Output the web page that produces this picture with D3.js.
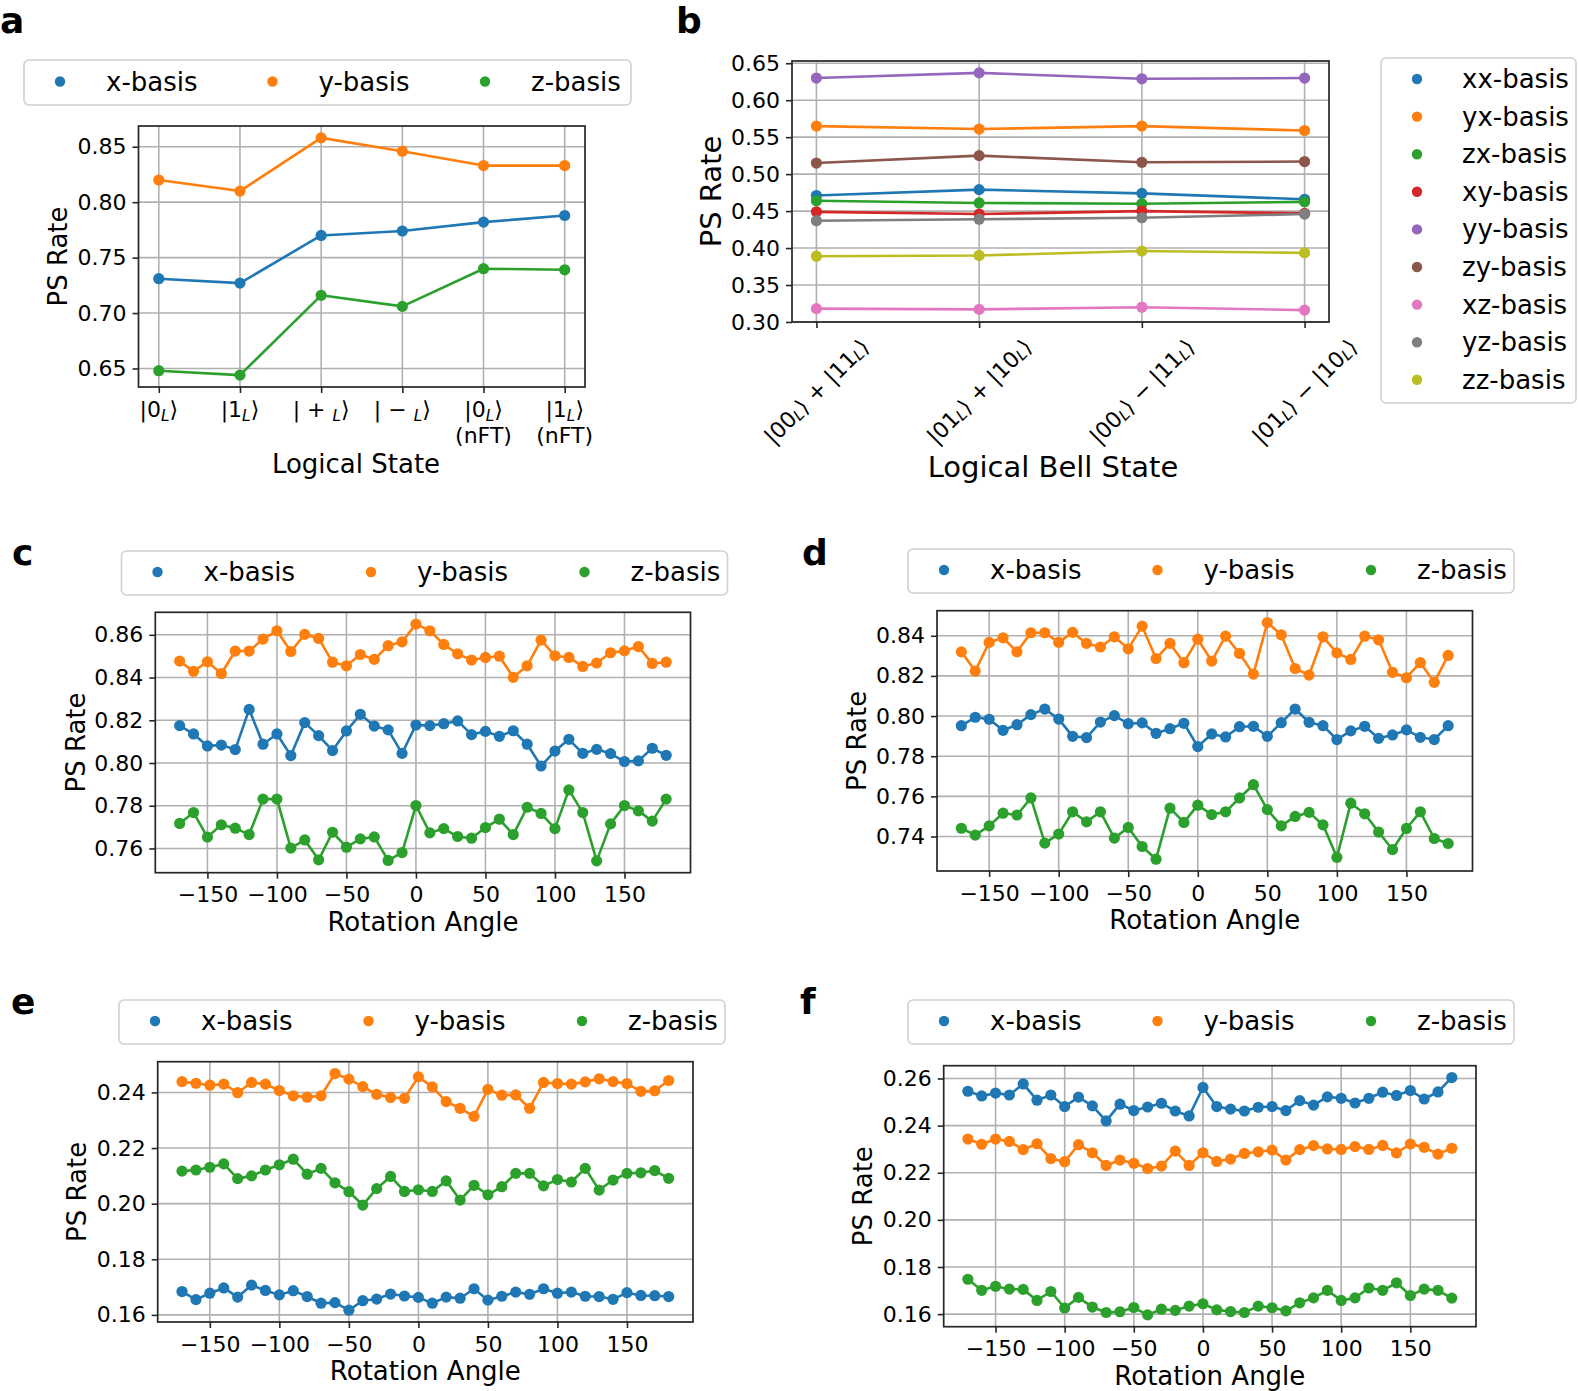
<!DOCTYPE html>
<html><head><meta charset="utf-8">
<script src="https://cdn.jsdelivr.net/npm/d3@7"></script>
<style>
body{margin:0;background:#fff}
svg{display:block}
text{font-family:"DejaVu Sans",sans-serif;white-space:pre}
</style>
</head><body>
<svg id="fig" width="1578" height="1391"></svg>
<script>
// ---------------- DATA ----------------
const basisColors = {x:"#1f77b4", y:"#ff7f0e", z:"#2ca02c"};

const a_states = ["|0_L⟩","|1_L⟩","| + _L⟩","| − _L⟩","|0_L⟩\n(nFT)","|1_L⟩\n(nFT)"];
const a_x = [0.731,0.727,0.770,0.774,0.782,0.788];
const a_y = [0.820,0.810,0.858,0.846,0.833,0.833];
const a_z = [0.648,0.644,0.716,0.706,0.740,0.739];
const a_yticks = [0.65,0.70,0.75,0.80,0.85];

const b_states = ["|00_L⟩ + |11_L⟩","|01_L⟩ + |10_L⟩","|00_L⟩ − |11_L⟩","|01_L⟩ − |10_L⟩"];
const b_names = ["xx-basis","yx-basis","zx-basis","xy-basis","yy-basis","zy-basis","xz-basis","yz-basis","zz-basis"];
const b_colors = ["#1f77b4","#ff7f0e","#2ca02c","#d62728","#9467bd","#8c564b","#e377c2","#7f7f7f","#bcbd22"];
const b_xx = [0.471,0.479,0.474,0.466];
const b_yx = [0.565,0.561,0.565,0.559];
const b_zx = [0.464,0.461,0.460,0.4625];
const b_xy = [0.449,0.446,0.450,0.447];
const b_yy = [0.630,0.637,0.629,0.630];
const b_zy = [0.515,0.525,0.516,0.517];
const b_xz = [0.318,0.317,0.320,0.316];
const b_yz = [0.437,0.439,0.441,0.446];
const b_zz = [0.389,0.390,0.396,0.3935];
const b_yticks = [0.30,0.35,0.40,0.45,0.50,0.55,0.60,0.65];

const angles = [-170,-160,-150,-140,-130,-120,-110,-100,-90,-80,-70,-60,-50,-40,-30,-20,-10,0,
                10,20,30,40,50,60,70,80,90,100,110,120,130,140,150,160,170,180];
const angle_ticks = [-150,-100,-50,0,50,100,150];

const c_x = [.8175,.8136,.8080,.8084,.8063,.8251,.8088,.8136,.8035,.8189,.8128,.8058,.8150,.8228,.8173,.8155,.8045,.8178,.8175,.8184,.8197,.8133,.8148,.8125,.8151,.8088,.7986,.8056,.8111,.8045,.8064,.8044,.8007,.8010,.8069,.8036];
const c_y = [.8477,.8429,.8474,.8419,.8524,.8524,.8580,.8619,.8522,.8602,.8583,.8472,.8455,.8508,.8485,.8549,.8567,.8650,.8619,.8555,.8511,.8482,.8494,.8500,.8401,.8455,.8575,.8502,.8494,.8452,.8468,.8516,.8525,.8545,.8466,.8472];
const c_z = [.7717,.7768,.7653,.7711,.7695,.7665,.7831,.7831,.7602,.7640,.7547,.7676,.7606,.7645,.7654,.7544,.7581,.7801,.7673,.7693,.7656,.7648,.7698,.7737,.7665,.7793,.7764,.7693,.7874,.7768,.7542,.7715,.7801,.7776,.7728,.7831];
const c_yticks = [0.76,0.78,0.80,0.82,0.84,0.86];

const d_x = [.7952,.7994,.7984,.7929,.7957,.8007,.8035,.7985,.7899,.7893,.7970,.8002,.7962,.7966,.7914,.7937,.7964,.7848,.7911,.7896,.7947,.7949,.7899,.7967,.8035,.7969,.7952,.7883,.7926,.7949,.7889,.7906,.7931,.7894,.7883,.7952];
const d_y = [.8320,.8224,.8367,.8390,.8320,.8415,.8415,.8367,.8417,.8362,.8344,.8395,.8335,.8448,.8286,.8362,.8266,.8383,.8274,.8398,.8312,.8209,.8466,.8405,.8237,.8204,.8395,.8315,.8282,.8398,.8380,.8218,.8191,.8266,.8168,.8302];
const d_z = [.7441,.7407,.7453,.7516,.7507,.7592,.7367,.7412,.7523,.7473,.7523,.7392,.7445,.7350,.7287,.7541,.7470,.7556,.7509,.7523,.7592,.7658,.7534,.7453,.7500,.7520,.7458,.7296,.7566,.7513,.7422,.7335,.7440,.7523,.7390,.7365];
const d_yticks = [0.74,0.76,0.78,0.80,0.82,0.84];

const e_x = [.1684,.1655,.1678,.1697,.1664,.1707,.1688,.1672,.1687,.1666,.1642,.1644,.1617,.1651,.1657,.1675,.1668,.1663,.1642,.1664,.1660,.1694,.1653,.1667,.1682,.1674,.1694,.1678,.1682,.1667,.1666,.1656,.1680,.1670,.1669,.1666];
const e_y = [.2439,.2433,.2426,.2430,.2399,.2436,.2430,.2407,.2388,.2383,.2388,.2468,.2448,.2421,.2393,.2382,.2379,.2456,.2420,.2367,.2343,.2314,.2411,.2390,.2391,.2343,.2436,.2432,.2430,.2438,.2449,.2439,.2432,.2404,.2406,.2443];
const e_z = [.2117,.2121,.2131,.2143,.2090,.2100,.2121,.2140,.2160,.2106,.2127,.2075,.2043,.1995,.2054,.2098,.2044,.2050,.2044,.2082,.2013,.2066,.2032,.2061,.2109,.2109,.2064,.2087,.2078,.2127,.2049,.2085,.2109,.2111,.2119,.2091];
const e_yticks = [0.16,0.18,0.20,0.22,0.24];

const f_x = [.2546,.2526,.2538,.2530,.2577,.2508,.2530,.2481,.2521,.2484,.2420,.2491,.2464,.2479,.2495,.2462,.2441,.2562,.2481,.2470,.2462,.2478,.2481,.2464,.2506,.2487,.2522,.2516,.2496,.2516,.2542,.2528,.2549,.2513,.2543,.2604];
const f_y = [.2343,.2321,.2343,.2333,.2298,.2323,.2260,.2247,.2319,.2285,.2231,.2254,.2240,.2218,.2228,.2292,.2231,.2285,.2248,.2258,.2282,.2289,.2296,.2254,.2298,.2315,.2301,.2299,.2311,.2299,.2316,.2284,.2322,.2308,.2279,.2304];
const f_z = [.1748,.1701,.1718,.1706,.1705,.1658,.1696,.1626,.1671,.1630,.1607,.1610,.1628,.1597,.1621,.1616,.1634,.1644,.1618,.1611,.1607,.1634,.1627,.1614,.1648,.1669,.1701,.1658,.1669,.1711,.1701,.1733,.1679,.1706,.1701,.1668];
const f_yticks = [0.16,0.18,0.20,0.22,0.24,0.26];

// ---------------- DRAWING ----------------
const svg = d3.select("#fig");
const FS_TICK = 22, FS_LAB = 26, FS_LEG = 26;
const SPINE = "#262626", GRID = "#b0b0b0";

function padExtent(vals){ const [a,b]=d3.extent(vals); const p=(b-a)*0.05; return [a-p,b+p]; }

function mathText(sel, str, fs){
  const parts = str.split("_L");
  parts.forEach((p,i)=>{
    if(i>0){
      sel.append("tspan").attr("font-size",fs*0.7).attr("font-style","italic").attr("dy",fs*0.2).text("L");
      sel.append("tspan").attr("font-size",fs).attr("dy",-fs*0.2).text(p);
    } else sel.append("tspan").attr("font-size",fs).text(p);
  });
}

function panel(o){
  const g = svg.append("g");
  const x = d3.scaleLinear().domain(o.xdom).range([o.L,o.R]);
  const allY = [].concat(...o.series.map(s=>s.vals));
  const y = d3.scaleLinear().domain(padExtent(allY)).range([o.B,o.T]);
  // grid
  g.selectAll(null).data(o.xgrid).join("line")
    .attr("x1",d=>x(d)).attr("x2",d=>x(d)).attr("y1",o.T).attr("y2",o.B)
    .attr("stroke",GRID).attr("stroke-width",1.6);
  g.selectAll(null).data(o.yticks).join("line")
    .attr("x1",o.L).attr("x2",o.R).attr("y1",d=>y(d)).attr("y2",d=>y(d))
    .attr("stroke",GRID).attr("stroke-width",1.6);
  // series
  o.series.forEach(s=>{
    g.append("path").datum(s.vals).attr("fill","none").attr("stroke",s.color).attr("stroke-width",2.6)
      .attr("stroke-linejoin","round")
      .attr("d", d3.line().x((d,i)=>x(o.xs[i])).y(d=>y(d)));
    g.selectAll(null).data(s.vals).join("circle")
      .attr("cx",(d,i)=>x(o.xs[i])).attr("cy",d=>y(d)).attr("r",5.6).attr("fill",s.color);
  });
  // frame
  g.append("rect").attr("x",o.L).attr("y",o.T).attr("width",o.R-o.L).attr("height",o.B-o.T)
    .attr("fill","none").attr("stroke",SPINE).attr("stroke-width",1.7);
  // y axis
  const ya = d3.axisLeft(y).tickValues(o.yticks).tickFormat(d3.format(".2f")).tickSize(6).tickPadding(6);
  g.append("g").attr("transform",`translate(${o.L},0)`).call(ya)
    .attr("font-size",FS_TICK).attr("font-family","DejaVu Sans")
    .call(a=>a.select(".domain").remove())
    .call(a=>a.selectAll("line").attr("stroke",SPINE).attr("stroke-width",1.6))
    .call(a=>a.selectAll("text").attr("fill","#000"));
  // x axis
  const xa = d3.axisBottom(x).tickValues(o.xticks).tickSize(6).tickPadding(8)
    .tickFormat(o.xfmt || (()=>""));
  g.append("g").attr("transform",`translate(0,${o.B})`).call(xa)
    .attr("font-size",FS_TICK).attr("font-family","DejaVu Sans")
    .call(a=>a.select(".domain").remove())
    .call(a=>a.selectAll("line").attr("stroke",SPINE).attr("stroke-width",1.6))
    .call(a=>a.selectAll("text").attr("fill","#000"));
  const labFs = o.labFs || FS_LAB;
  // y label
  g.append("text").attr("transform",`translate(${o.ylabX},${(o.T+o.B)/2}) rotate(-90)`)
    .attr("text-anchor","middle").attr("font-size",labFs).text("PS Rate");
  // x label
  g.append("text").attr("x",o.xlabX!=null?o.xlabX:(o.L+o.R)/2).attr("y",o.xlabY)
    .attr("text-anchor","middle").attr("font-size",labFs).text(o.xlabel);
  return {g,x,y};
}

function legendRow(L,T,W,H,names,colors,step){
  const g = svg.append("g");
  g.append("rect").attr("x",L).attr("y",T).attr("width",W).attr("height",H).attr("rx",5)
    .attr("fill","#fff").attr("stroke","#d0d0d0").attr("stroke-width",1.6);
  const cy = T+H/2;
  names.forEach((n,i)=>{
    g.append("circle").attr("cx",L+36+i*step).attr("cy",cy-1).attr("r",5.2).attr("fill",colors[i]);
    g.append("text").attr("x",L+82+i*step).attr("y",cy+8).attr("font-size",FS_LEG).text(n);
  });
}

function panelLetter(t,x,yb){
  svg.append("text").attr("x",x).attr("y",yb).attr("font-family","Liberation Sans, Arial, sans-serif")
    .attr("font-weight","bold").attr("font-size",36).text(t);
}

const xyzNames = ["x-basis","y-basis","z-basis"];
const xyzColors = [basisColors.x,basisColors.y,basisColors.z];

// ----- panel a -----
const aIdx = a_states.map((d,i)=>i);
const pa = panel({L:138.5,R:585,T:126,B:387,xs:aIdx,xdom:padExtent(aIdx),xgrid:aIdx,xticks:aIdx,
  yticks:a_yticks,series:[{vals:a_x,color:basisColors.x},{vals:a_y,color:basisColors.y},{vals:a_z,color:basisColors.z}],
  ylabX:67,xlabel:"Logical State",xlabX:356,xlabY:473});
a_states.forEach((s,i)=>{
  const lines = s.split("\n");
  lines.forEach((ln,j)=>{
    const t = pa.g.append("text").attr("x",pa.x(i)).attr("y",387+30+j*26).attr("text-anchor","middle");
    mathText(t, ln, FS_TICK);
  });
});
legendRow(24,60,607,45,xyzNames,xyzColors,212.5);
panelLetter("a",0,33);

// ----- panel b -----
const bIdx = b_states.map((d,i)=>i);
const bSeries = [b_xx,b_yx,b_zx,b_xy,b_yy,b_zy,b_xz,b_yz,b_zz].map((v,i)=>({vals:v,color:b_colors[i]}));
const pb = panel({L:792,R:1329,T:61,B:322,xs:bIdx,xdom:padExtent(bIdx),xgrid:bIdx,xticks:bIdx,
  yticks:b_yticks,series:bSeries,ylabX:721,xlabel:"Logical Bell State",xlabX:1053,xlabY:477,labFs:29});
b_states.forEach((s,i)=>{
  const t = pb.g.append("text").attr("text-anchor","middle").attr("dominant-baseline","central");
  mathText(t, s, FS_TICK);
  const w = t.node().getComputedTextLength();
  const h = FS_TICK*1.1;
  const H = (w+h)*Math.SQRT1_2;
  t.attr("transform",`translate(${pb.x(i)},${322+12+H/2}) rotate(-45)`);
});
{
  const g = svg.append("g");
  const L=1381,T=58,W=195,H=345;
  g.append("rect").attr("x",L).attr("y",T).attr("width",W).attr("height",H).attr("rx",5)
    .attr("fill","#fff").attr("stroke","#d0d0d0").attr("stroke-width",1.6);
  b_names.forEach((n,i)=>{
    const cy = 79+i*37.6;
    g.append("circle").attr("cx",L+36).attr("cy",cy).attr("r",5.2).attr("fill",b_colors[i]);
    g.append("text").attr("x",L+81).attr("y",cy+9).attr("font-size",FS_LEG).text(n);
  });
}
panelLetter("b",676,33);

// ----- panels c-f -----
const fmtAngle = d=>d3.format("d")(d);
function anglePanel(L,R,T,B,vx,vy,vz,yt,ylabX){
  return panel({L,R,T,B,xs:angles,xdom:padExtent(angles),xgrid:angle_ticks,xticks:angle_ticks,xfmt:fmtAngle,
    yticks:yt,series:[{vals:vx,color:basisColors.x},{vals:vy,color:basisColors.y},{vals:vz,color:basisColors.z}],
    ylabX,xlabel:"Rotation Angle",xlabY:B+58});
}
anglePanel(155.3,690.5,612.3,872.7,c_x,c_y,c_z,c_yticks,85);
legendRow(121.5,551,606,44,xyzNames,xyzColors,213.5);
panelLetter("c",12,565);

anglePanel(937,1472.5,610.7,871,d_x,d_y,d_z,d_yticks,866);
legendRow(908,549,606,44,xyzNames,xyzColors,213.5);
panelLetter("d",802,565);

anglePanel(157.7,693,1061.7,1322,e_x,e_y,e_z,e_yticks,86);
legendRow(119,1000,606,44,xyzNames,xyzColors,213.5);
panelLetter("e",11,1014);

anglePanel(943.7,1476,1065.7,1326.7,f_x,f_y,f_z,f_yticks,872);
legendRow(908,1000,606,44,xyzNames,xyzColors,213.5);
panelLetter("f",800,1014);
</script>
</body></html>
